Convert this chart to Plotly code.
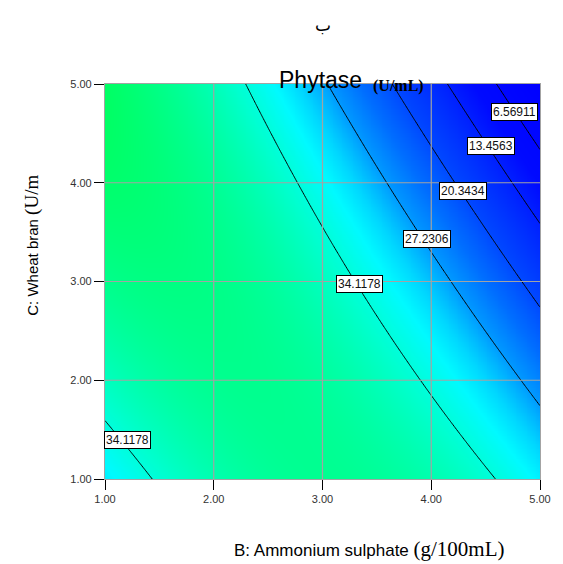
import numpy as np
import plotly.graph_objects as go

# ---- data ----
# contour levels (Phytase, U/mL)
levels = [6.56911, 13.4563, 20.3434, 27.2306, 34.1178]

# points where each labelled contour crosses the plot (B: Ammonium sulphate, C: Wheat bran)
pts_B = [2.29, 2.76, 3.31, 3.88, 4.56, 1.43, 1.00,
         3.05, 3.58, 4.20, 5.00,
         3.65, 3.99, 5.00,
         4.14, 4.55, 5.00,
         4.60, 4.77, 5.00]
pts_C = [5.00, 4.00, 3.00, 2.00, 1.00, 1.00, 1.59,
         5.00, 4.00, 3.00, 1.80,
         5.00, 4.375, 2.72,
         5.00, 4.37, 3.56,
         5.00, 4.72, 4.32]
pts_Z = [34.1178, 34.1178, 34.1178, 34.1178, 34.1178, 34.1178, 34.1178,
         27.2306, 27.2306, 27.2306, 27.2306,
         20.3434, 20.3434, 20.3434,
         13.4563, 13.4563, 13.4563,
         6.56911, 6.56911, 6.56911]

tick_vals = [1, 2, 3, 4, 5]
tick_text = ["1.00", "2.00", "3.00", "4.00", "5.00"]

# label placement (B, C) for each contour label
label_text = ["6.56911", "13.4563", "20.3434", "27.2306", "34.1178", "34.1178"]
label_pos = [(4.77, 4.72), (4.55, 4.37), (4.29, 3.92), (3.96, 3.43), (3.34, 2.97), (1.21, 1.39)]

# ---- quadratic response surface fitted to the read points ----
b = np.array(pts_B); c = np.array(pts_C); zz = np.array(pts_Z)
A = np.column_stack([np.ones_like(b), b, c, b * b, c * c, b * c])
coef, *_ = np.linalg.lstsq(A, zz, rcond=None)

gB = np.linspace(1, 5, 241)
gC = np.linspace(1, 5, 241)
BB, CC = np.meshgrid(gB, gC)
Z = (coef[0] + coef[1] * BB + coef[2] * CC + coef[3] * BB ** 2
     + coef[4] * CC ** 2 + coef[5] * BB * CC)

zmax = 44.0
cs = [
    [0.0, "rgb(0,0,255)"],
    [10 / zmax, "rgb(0,10,255)"],
    [20 / zmax, "rgb(0,70,255)"],
    [24 / zmax, "rgb(0,110,255)"],
    [27 / zmax, "rgb(0,150,255)"],
    [30 / zmax, "rgb(0,215,255)"],
    [32 / zmax, "rgb(0,250,255)"],
    [35 / zmax, "rgb(0,255,205)"],
    [39.5 / zmax, "rgb(0,255,130)"],
    [1.0, "rgb(0,255,50)"],
]

fig = go.Figure()
fig.add_trace(go.Heatmap(x=gB, y=gC, z=Z, colorscale=cs, zmin=0, zmax=zmax,
                         zsmooth="best", showscale=False, hoverinfo="skip"))
fig.add_trace(go.Contour(
    x=gB, y=gC, z=Z, showscale=False,
    contours=dict(start=levels[0], end=levels[-1] + 0.001,
                  size=(levels[-1] - levels[0]) / 4, coloring="none"),
    line=dict(color="black", width=1), hoverinfo="skip"))

shapes = []
for v in tick_vals[1:-1]:
    shapes.append(dict(type="line", xref="x", yref="paper", x0=v, x1=v, y0=0, y1=1,
                       line=dict(color="#a3a3a3", width=1.2), layer="above"))
    shapes.append(dict(type="line", xref="paper", yref="y", x0=0, x1=1, y0=v, y1=v,
                       line=dict(color="#a3a3a3", width=1.2), layer="above"))

annotations = []
for t, (px, py) in zip(label_text, label_pos):
    annotations.append(dict(x=px, y=py, xref="x", yref="y", text=t, showarrow=False,
                            font=dict(family="Arial", size=12, color="#111"),
                            bgcolor="white", bordercolor="black", borderwidth=1,
                            borderpad=1))

# page has an 8px body margin: work in page pixels and shift the figure
OFF = 8
W, H = 563 - OFF, 564 - OFF
L, T = 105 - OFF, 84 - OFF
R = W - (549 - OFF)
Bm = H - (479 - OFF)
pw, ph = W - L - R, H - T - Bm


def px2paper(x, y):
    # x, y are page pixel coordinates in the reference
    return (x - OFF - L) / pw, (H - Bm - (y - OFF)) / ph


ax, ay = px2paper(327, 13)
annotations.append(dict(x=ax, y=ay, xref="paper", yref="paper", text="ب", showarrow=False,
                        font=dict(family="DejaVu Sans", size=17, color="black")))
ax, ay = px2paper(325, 65)
annotations.append(dict(x=ax, y=ay, xref="paper", yref="paper", text="Phytase", showarrow=False,
                        font=dict(family="Arial", size=23, color="black")))
ax, ay = px2paper(376, 75)
annotations.append(dict(x=ax, y=ay, xref="paper", yref="paper", xanchor="left",
                        text="<b>(U/mL)</b>", showarrow=False,
                        font=dict(family="Liberation Serif", size=16, color="black")))
ax, ay = px2paper(375, 563)
annotations.append(dict(x=ax, y=ay, xref="paper", yref="paper", yanchor="bottom",
                        text="B: Ammonium sulphate <span style='font-family:Liberation Serif;font-size:21px'>(g/100mL)</span>",
                        showarrow=False, font=dict(family="Arial", size=17, color="black")))
ax, ay = px2paper(17, 245)
annotations.append(dict(x=ax, y=ay, xref="paper", yref="paper", textangle=-90,
                        text="C: Wheat bran <span style='font-family:Liberation Serif;font-size:19px'>(U/m</span>",
                        showarrow=False, font=dict(family="Arial", size=15, color="black")))

axis_common = dict(range=[1, 5], tickvals=tick_vals, ticktext=tick_text, ticks="outside",
                   ticklen=10, tickcolor="black", tickwidth=1, showgrid=False, zeroline=False,
                   showline=True, linecolor="#a3a3a3", linewidth=1.2, mirror=True,
                   tickfont=dict(family="Arial", size=11, color="#333"))

fig.update_layout(
    width=W, height=H, margin=dict(l=L, r=R, t=T, b=Bm, pad=0),
    paper_bgcolor="white", plot_bgcolor="white",
    xaxis=dict(**axis_common), yaxis=dict(**axis_common),
    shapes=shapes, annotations=annotations, showlegend=False,
)
fig.write_html("out.html")
